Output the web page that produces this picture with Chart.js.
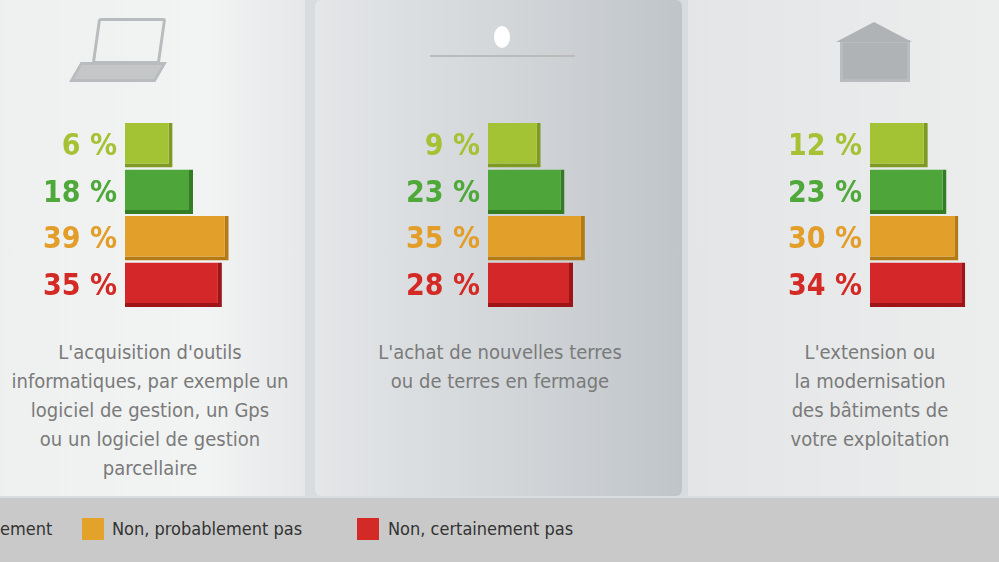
<!DOCTYPE html>
<html><head><meta charset="utf-8">
<script src="https://cdn.jsdelivr.net/npm/chart.js@4"></script>
<style>
body{margin:0;width:999px;height:562px;overflow:hidden;background:#d9dcde;font-family:"Liberation Sans Narrow","DejaVu Sans Condensed","Liberation Sans",sans-serif;position:relative}
.panel{position:absolute;top:0;height:496px}
.p1{left:-20px;width:325px;background:linear-gradient(90deg,#eef0f0,#f2f3f3 70%,#e6e8e9)}
.p2{left:315px;width:367px;background:linear-gradient(90deg,#e4e6e8,#d3d7da 50%,#c0c5c9);border-radius:6px}
.p3{left:688px;width:311px;background:linear-gradient(90deg,#e3e5e6,#eceeee)}
.desc{position:absolute;top:338px;text-align:center;color:#7a7a7a;font-size:20px;line-height:29px;white-space:nowrap}
.legend{position:absolute;left:0;top:498px;width:999px;height:64px;background:#c9c9c9}
.li{position:absolute;top:20px;font-size:18px;color:#333}
.sq{position:absolute;top:20px;width:22px;height:22px}
canvas{position:absolute}
.icon{position:absolute;border:3px solid #b9bcbe}
</style></head><body>
<div class="panel p1"></div><div class="panel p2"></div><div class="panel p3"></div>
<div class="icon" style="left:95px;top:18px;width:62px;height:40px;border-radius:3px;transform:skewX(-8deg)"></div>
<div class="icon" style="left:75px;top:62px;width:80px;height:14px;background:#c4c6c8;transform:skewX(-30deg)"></div>
<div class="icon" style="left:840px;top:40px;width:64px;height:36px;background:#b0b3b5"></div>
<div style="position:absolute;left:836px;top:22px;width:0;height:0;border-left:38px solid transparent;border-right:38px solid transparent;border-bottom:20px solid #b0b3b5"></div>
<div style="position:absolute;left:494px;top:26px;width:16px;height:22px;background:#fff;border-radius:50%"></div>
<div style="position:absolute;left:430px;top:55px;width:145px;height:2px;background:#bbb"></div>
<canvas id="c1" width="305" height="186" style="left:0;top:122px;width:305px;height:186px"></canvas>
<canvas id="c2" width="367" height="186" style="left:315px;top:122px;width:367px;height:186px"></canvas>
<canvas id="c3" width="309" height="186" style="left:690px;top:122px;width:309px;height:186px"></canvas>
<div class="desc" style="left:0;width:300px">L'acquisition d'outils<br>informatiques, par exemple un<br>logiciel de gestion, un Gps<br>ou un logiciel de gestion<br>parcellaire</div>
<div class="desc" style="left:315px;width:370px">L'achat de nouvelles terres<br>ou de terres en fermage</div>
<div class="desc" style="left:720px;width:300px">L'extension ou<br>la modernisation<br>des bâtiments de<br>votre exploitation</div>
<div class="legend">
<div class="li" style="left:0">ement</div>
<div class="sq" style="left:82px;background:#e3a22a"></div><div class="li" style="left:112px">Non, probablement pas</div>
<div class="sq" style="left:357px;background:#d42a25"></div><div class="li" style="left:388px">Non, certainement pas</div>
</div>
<script>
const categories=["Oui, certainement","Oui, probablement","Non, probablement pas","Non, certainement pas"];
const outils=[6,18,39,35];
const terres=[9,23,35,28];
const batiments=[12,23,30,34];
const colors=["#a3c335","#4ea63a","#e2a02a","#d3272a"];
const borders=["#7f9a22","#357d25","#b47a14","#9e1518"];
const labelColors=["#a6c234","#4fa83a","#e39e2a","#d42a25"];
const pctLabels={id:"pct",afterDatasetsDraw(ch){const c=ch.ctx;const x=ch.scales.x.getPixelForValue(-22);
ch.getDatasetMeta(0).data.forEach((b,i)=>{c.save();c.font="bold 30px 'Liberation Sans Narrow','DejaVu Sans Condensed',sans-serif";c.textAlign="right";c.textBaseline="middle";c.fillStyle=labelColors[i];c.fillText(ch.data.datasets[0].data[i]+" %",x-8,b.y+2);c.restore();});}};
function make(id,data,pad,w,ppu){new Chart(document.getElementById(id),{type:"bar",
data:{labels:categories,datasets:[{data:data,base:-22,backgroundColor:colors,borderColor:borders,borderWidth:{right:4,bottom:4,top:0,left:0},barPercentage:0.96,categoryPercentage:1}]},
options:{indexAxis:"y",responsive:false,animation:false,layout:{padding:{left:pad,top:0,bottom:0,right:0}},
plugins:{legend:{display:false},tooltip:{enabled:false}},
scales:{x:{min:-22,max:-22+(w-pad)/ppu,display:false},y:{display:false}}},plugins:[pctLabels]});}
make("c1",outils,125,305,1.7);
make("c2",terres,173,367,1.7);
make("c3",batiments,180,309,1.7);
</script></body></html>
